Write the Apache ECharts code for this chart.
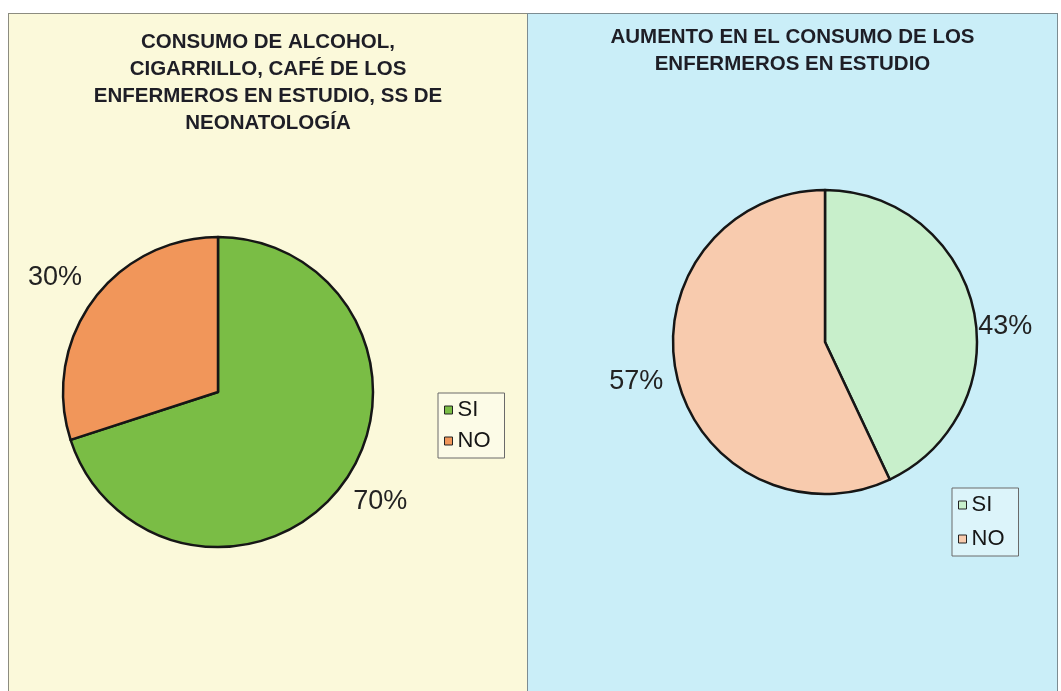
<!DOCTYPE html>
<html>
<head>
<meta charset="utf-8">
<script src="https://cdn.jsdelivr.net/npm/echarts@6/dist/echarts.min.js"></script>
<style>
html, body { margin: 0; padding: 0; background: #fff; }
#leftChart { position: absolute; left: 8px; top: 13px; width: 520px; height: 680px;
  background: #fbf9da; border: 1px solid #8c8c80; box-sizing: border-box; }
#rightChart { position: absolute; left: 527px; top: 13px; width: 531px; height: 680px;
  background: #caeef8; border: 1px solid #7c8c92; box-sizing: border-box; }
</style>
</head>
<body>
<div id="leftChart"></div>
<div id="rightChart"></div>
<script>
var categories = ['SI', 'NO'];
var consumoValues = [70, 30];
var aumentoValues = [43, 57];
var consumoTitle = 'CONSUMO DE ALCOHOL,\nCIGARRILLO, CAFÉ DE LOS\nENFERMEROS EN ESTUDIO, SS DE\nNEONATOLOGÍA';
var aumentoTitle = 'AUMENTO EN EL CONSUMO DE LOS\nENFERMEROS EN ESTUDIO';

var font = 'Liberation Sans, Arial, sans-serif';

function pieOption(title, titleTop, titlePad, values, colors, center, radius, lines, legendPos, legendGap) {
    return {
        animation: false,
        title: {
            text: title,
            left: 'center',
            top: titleTop,
            padding: titlePad,
            textStyle: {
                fontFamily: font,
                fontSize: 20.5,
                fontWeight: 'bold',
                color: '#1e1e26',
                lineHeight: 27
            }
        },
        legend: {
            orient: 'vertical',
            left: legendPos[0],
            top: legendPos[1],
            data: categories,
            icon: 'rect',
            itemWidth: 8,
            itemHeight: 8,
            itemGap: legendGap,
            padding: [6, 14, 6, 6],
            borderColor: '#6a6a6a',
            borderWidth: 1,
            backgroundColor: 'rgba(255,255,255,0.35)',
            itemStyle: { borderColor: '#222', borderWidth: 1 },
            textStyle: { fontFamily: font, fontSize: 22, color: '#161616' }
        },
        series: [{
            type: 'pie',
            center: center,
            radius: radius,
            startAngle: 90,
            clockwise: true,
            avoidLabelOverlap: false,
            percentPrecision: 0,
            itemStyle: { borderColor: '#161616', borderWidth: 2.5 },
            label: {
                show: true,
                position: 'outside',
                formatter: '{d}%',
                fontFamily: font,
                fontSize: 27,
                color: '#222'
            },
            labelLine: { show: false },
            labelLayout: function (p) {
                return { dy: lines[p.dataIndex][2] };
            },
            data: categories.map(function (c, i) {
                return {
                    name: c,
                    value: values[i],
                    itemStyle: { color: colors[i] },
                    labelLine: { show: false, length: lines[i][0], length2: lines[i][1] }
                };
            })
        }]
    };
}

var leftChart = echarts.init(document.getElementById('leftChart'));
leftChart.setOption(pieOption(consumoTitle, 15, [0, 0, 0, 15], consumoValues,
    ['#7abd45', '#f1965a'], [209, 378], 155,
    [[32, -21, 0], [39, -26, 0]], [429, 379], 9));

var rightChart = echarts.init(document.getElementById('rightChart'));
rightChart.setOption(pieOption(aumentoTitle, 10, 0, aumentoValues,
    ['#c8efcb', '#f8cbae'], [297, 328], 152,
    [[0, 0, 18], [27, -18, 0]], [424, 474], 12));
</script>
</body>
</html>
